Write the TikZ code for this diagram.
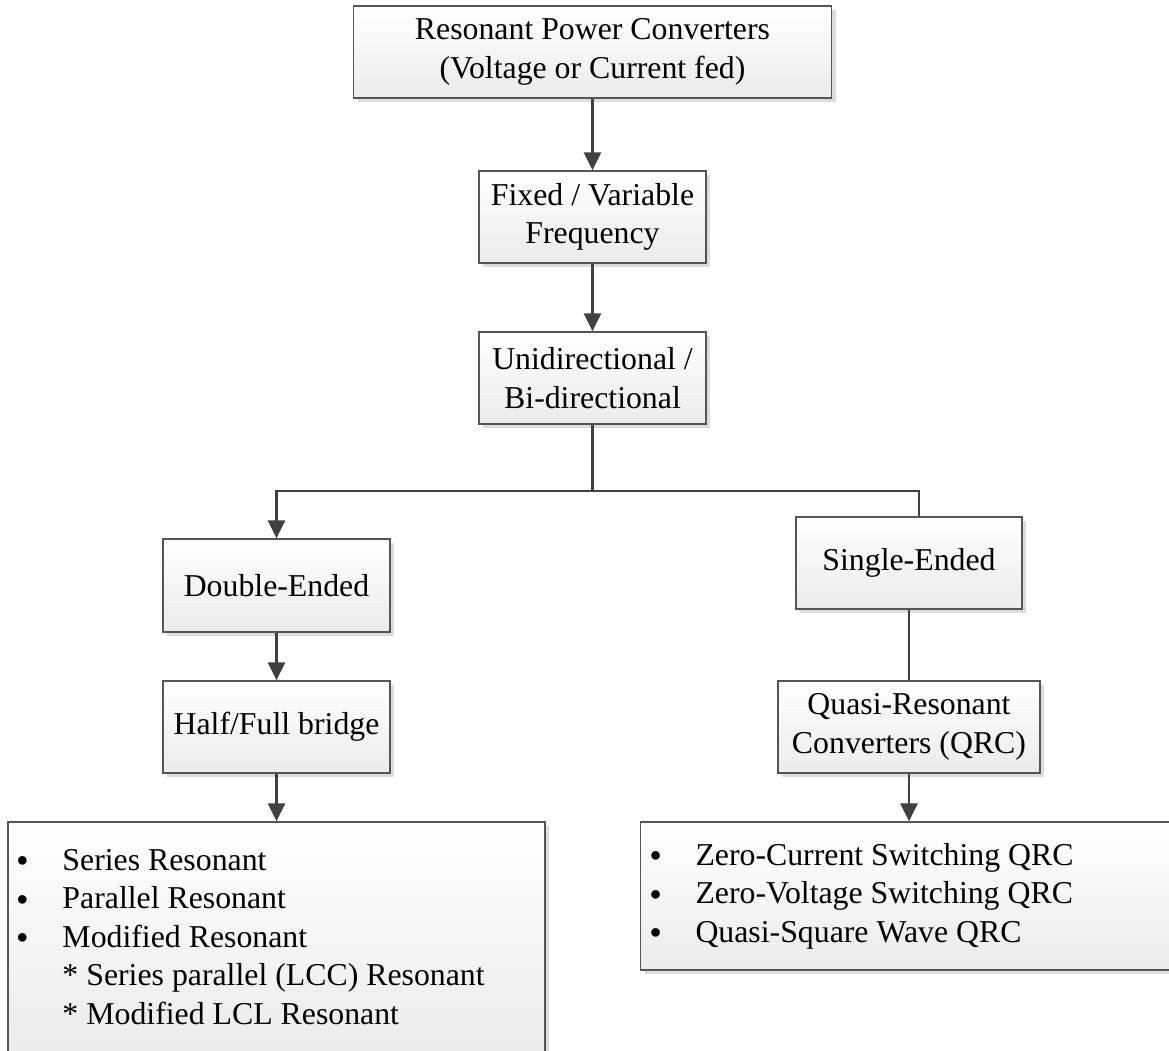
\documentclass[tikz,border=0pt]{standalone}
\usepackage{fontspec}
\setmainfont{Liberation Serif}
\usetikzlibrary{arrows.meta,shadows,calc}
\definecolor{linecol}{HTML}{404040}
\definecolor{bordercol}{HTML}{555555}
\definecolor{boxgrey}{HTML}{EBEBEB}
\definecolor{shadowgrey}{HTML}{DCDCDC}
\newcommand\bigfont{\fontsize{31.8pt}{38.5pt}\selectfont}
\newcommand\lbul{\makebox[47pt][l]{\hspace*{1pt}{\fontsize{20pt}{20pt}\selectfont\raisebox{3.5pt}{●}}}}
\begin{document}
\begin{tikzpicture}[x=1pt,y=1pt,
  blk/.style={draw=bordercol,line width=1.3pt,top color=white,bottom color=boxgrey,
    drop shadow={shadow xshift=4pt,shadow yshift=-4pt,fill=shadowgrey,opacity=1},
    inner sep=0pt,align=center,font=\bigfont},
  conn/.style={draw=linecol,line width=2.5pt},
  arr/.style={conn,-{Triangle[width=17pt,length=18pt]}},
  thinconn/.style={draw=linecol,line width=1.4pt}]
\clip (0,0) rectangle (1169,-1050);
\node[blk,minimum width=478pt,minimum height=92pt] (T) at (592.5,-52) {Resonant Power Converters\\(Voltage or Current fed)};
\node[blk,minimum width=227pt,minimum height=92pt] (F) at (592.5,-217) {Fixed / Variable\\Frequency};
\node[blk,minimum width=227pt,minimum height=92pt] (U) at (592.5,-378) {Unidirectional /\\Bi-directional};
\node[blk,minimum width=227pt,minimum height=93pt] (D) at (276.5,-585.5) {Double-Ended};
\node[blk,minimum width=227pt,minimum height=92pt] (H) at (276.5,-727) {Half/Full bridge};
\node[blk,minimum width=226pt,minimum height=92pt] (S) at (909,-563) {Single-Ended};
\node[blk,minimum width=262pt,minimum height=92pt] (Q) at (909,-727) {Quasi-Resonant\\Converters (QRC)};
\node[blk,minimum width=537pt,minimum height=230pt,text width=522pt,align=flush left] (L) at (276.5,-937)
  {\lbul Series Resonant\\ \lbul Parallel Resonant\\ \lbul Modified Resonant\\ \hspace*{47pt}* Series parallel (LCC) Resonant\\ \hspace*{47pt}* Modified LCL Resonant};
\node[blk,minimum width=537pt,minimum height=148pt,text width=521pt,align=flush left] (R) at (909,-896)
  {\lbul Zero-Current Switching QRC\\ \lbul Zero-Voltage Switching QRC\\ \lbul Quasi-Square Wave QRC};
\coordinate (J) at (592.5,-491);
\draw[arr] (T) -- (F);
\draw[arr] (F) -- (U);
\draw[conn] (U.south) -- (J);
\draw[arr] (J) -| (D.north);
\draw[conn] (J) -| ([xshift=10pt]S.north);
\draw[arr] (D) -- (H);
\draw[arr] (H) -- (L);
\draw[thinconn] (S) -- (Q);
\draw[arr] (Q) -- (R);
\end{tikzpicture}
\end{document}
